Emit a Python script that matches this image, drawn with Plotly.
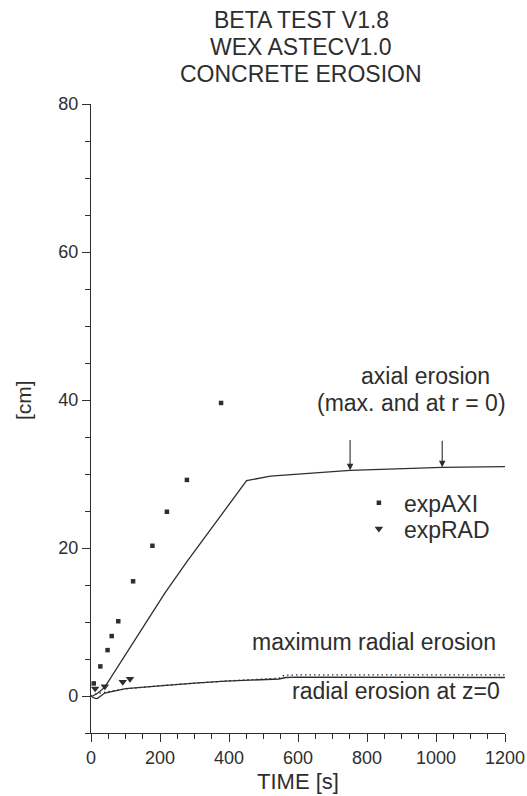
import plotly.graph_objects as go

# --- measured / computed series -------------------------------------------
# axial erosion (calculation)
axial_t = [5, 20, 40, 108, 214, 277, 451, 520, 577, 751, 1018, 1200]
axial_cm = [0.0, 0.4, 1.2, 6.2, 13.9, 18.1, 29.1, 29.7, 29.9, 30.5, 30.9, 31.0]

# radial erosion at z=0 (calculation)
rad_z0_t = [0, 10, 18, 40, 100, 200, 300, 390, 530, 545, 565, 600, 1200]
rad_z0_cm = [0.0, -0.3, -0.35, 0.4, 1.0, 1.4, 1.75, 2.0, 2.35, 2.3, 2.5, 2.55, 2.5]

# maximum radial erosion (calculation)
rad_max_t = [0, 15, 50, 100, 200, 300, 400, 500, 545, 560, 600, 1200]
rad_max_cm = [0.0, 0.3, 0.6, 0.95, 1.4, 1.75, 2.05, 2.3, 2.4, 2.8, 2.85, 2.85]

# experiment: axial erosion
exp_axi_t = [8, 27, 48, 60, 79, 122, 178, 220, 278, 377]
exp_axi_cm = [1.7, 4.0, 6.2, 8.1, 10.1, 15.5, 20.3, 24.9, 29.2, 39.6]

# experiment: radial erosion
exp_rad_t = [12, 40, 92, 113]
exp_rad_cm = [1.0, 1.3, 1.9, 2.3]

# arrows marking the axial erosion curve
arrow_t = [751, 1018]
arrow_tip_cm = [30.5, 30.9]
arrow_tail_cm = [34.8, 34.7]

title_lines = ["BETA TEST V1.8", "WEX ASTECV1.0", "CONCRETE EROSION"]

INK = "#2e2e2e"
FONT = "Liberation Sans, Arial, Helvetica, sans-serif"

fig = go.Figure()

fig.add_trace(go.Scatter(x=axial_t, y=axial_cm, mode="lines",
                         line=dict(color=INK, width=1.3), showlegend=False))
fig.add_trace(go.Scatter(x=rad_z0_t, y=rad_z0_cm, mode="lines",
                         line=dict(color=INK, width=1.3), showlegend=False))
fig.add_trace(go.Scatter(x=rad_max_t, y=rad_max_cm, mode="lines",
                         line=dict(color=INK, width=1.3, dash="1.5px,3px"),
                         showlegend=False))
fig.add_trace(go.Scatter(x=exp_axi_t, y=exp_axi_cm, mode="markers", name="expAXI",
                         marker=dict(symbol="square", size=4.5, color=INK),
                         cliponaxis=False, legend="legend"))
fig.add_trace(go.Scatter(x=exp_rad_t, y=exp_rad_cm, mode="markers", name="expRAD",
                         marker=dict(symbol="triangle-down", size=7.5, color=INK),
                         cliponaxis=False, legend="legend2"))

annotations = []
for t, tip, tail in zip(arrow_t, arrow_tip_cm, arrow_tail_cm):
    annotations.append(dict(x=t, y=tip, ax=t, ay=tail, xref="x", yref="y",
                            axref="x", ayref="y", text="", showarrow=True,
                            arrowhead=2, arrowsize=1.2, arrowwidth=1.1,
                            arrowcolor=INK))

# title block
for i, line in enumerate(title_lines):
    annotations.append(dict(text=line, xref="paper", yref="paper", x=0.508, y=1,
                            xanchor="center", yanchor="middle",
                            yshift=84 - 26.8 * i, showarrow=False,
                            font=dict(size=23, color=INK, family=FONT)))

# curve labels
labels = [
    ("axial erosion", 971, 43.2, "center"),
    ("(max. and at r = 0)", 928, 39.6, "center"),
    ("maximum radial erosion", 1180, 7.3, "right"),
    ("radial erosion at z=0", 1190, 0.7, "right"),
]
for txt, x, y, anc in labels:
    annotations.append(dict(text=txt, x=x, y=y, xref="x", yref="y",
                            xanchor=anc, yanchor="middle", showarrow=False,
                            font=dict(size=23, color=INK, family=FONT)))

# axis titles
annotations.append(dict(text="TIME [s]", xref="paper", yref="paper", x=0.5, y=0,
                        xanchor="center", yanchor="middle", yshift=-48,
                        showarrow=False, font=dict(size=22, color=INK, family=FONT)))
annotations.append(dict(text="[cm]", xref="paper", yref="y", x=0, y=40,
                        xanchor="center", yanchor="middle", xshift=-68,
                        textangle=-90, showarrow=False,
                        font=dict(size=21, color=INK, family=FONT)))

axis_common = dict(showline=True, linecolor=INK, linewidth=1.3, ticks="outside",
                   tickcolor=INK, tickwidth=1.3, ticklen=8, showgrid=False,
                   zeroline=False, mirror=False, automargin=False,
                   tickfont=dict(size=18, color=INK, family=FONT))

legend_common = dict(xanchor="left", yanchor="top", bgcolor="rgba(0,0,0,0)",
                     font=dict(size=23, color=INK, family=FONT), itemwidth=40)

fig.update_layout(
    width=527, height=796, autosize=False,
    margin=dict(l=91, r=22, t=104, b=63),
    paper_bgcolor="white", plot_bgcolor="white",
    xaxis=dict(range=[0, 1200], tick0=0, dtick=200,
               minor=dict(dtick=50, ticks="outside", ticklen=5, tickcolor=INK,
                          tickwidth=1.3, showgrid=False),
               **axis_common),
    yaxis=dict(range=[-5, 80], tick0=0, dtick=20,
               minor=dict(dtick=5, ticks="outside", ticklen=5, tickcolor=INK,
                          tickwidth=1.3, showgrid=False),
               **axis_common),
    legend=dict(x=0.635, y=0.40, **legend_common),
    legend2=dict(x=0.635, y=0.359, **legend_common),
    annotations=annotations,
    showlegend=True,
)

fig.write_html("out.html")
